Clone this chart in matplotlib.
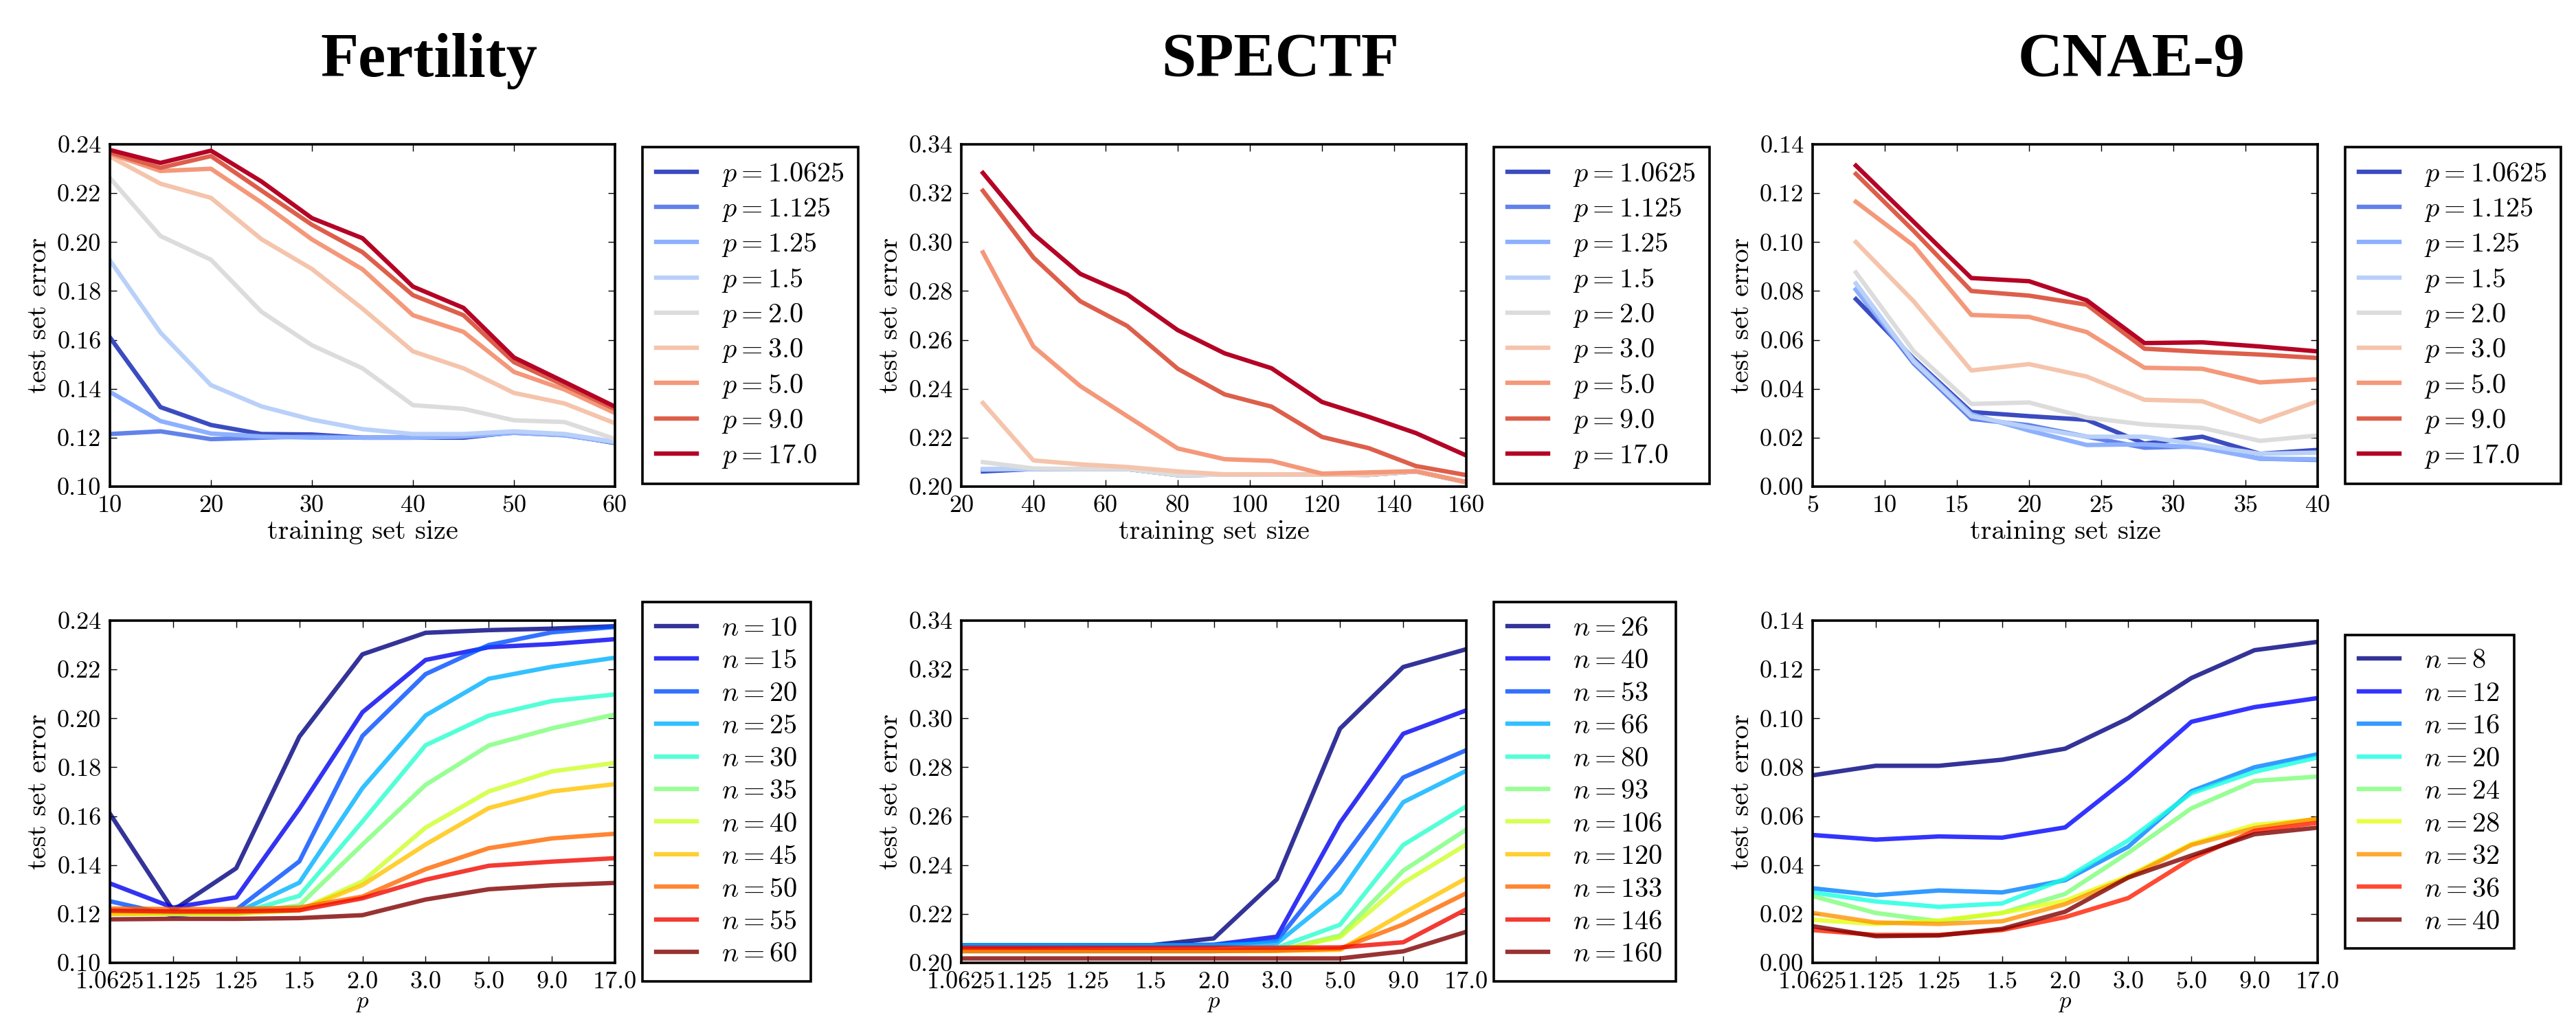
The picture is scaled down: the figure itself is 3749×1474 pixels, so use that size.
"""
Test set error against training set size and p, for three datasets
"""
import numpy as np
import matplotlib
matplotlib.use('agg')
import matplotlib.pyplot as plt
from matplotlib.ticker import FormatStrFormatter

# Computer Modern look for everything except the titles
plt.rcParams['font.family'] = 'cmr10'
plt.rcParams['mathtext.fontset'] = 'cm'
plt.rcParams['axes.unicode_minus'] = False

# p values -> rows of every error table
p_labels = ['1.0625', '1.125', '1.25', '1.5', '2.0', '3.0', '5.0', '9.0', '17.0']

# Fertility: columns are training set sizes
fert_n = [10, 15, 20, 25, 30, 35, 40, 45, 50, 55, 60]
fert_err = np.array([
    [.1610, .1325, .1252, .1215, .1213, .1200, .1200, .1200, .1222, .1213, .1178],
    [.1215, .1226, .1194, .1200, .1205, .1200, .1200, .1205, .1220, .1210, .1180],
    [.1387, .1268, .1217, .1205, .1200, .1200, .1200, .1205, .1220, .1210, .1180],
    [.1925, .1630, .1415, .1328, .1274, .1235, .1215, .1215, .1226, .1215, .1183],
    [.2262, .2025, .1928, .1715, .1578, .1484, .1333, .1318, .1271, .1264, .1195],
    [.2350, .2239, .2181, .2012, .1890, .1728, .1553, .1484, .1383, .1340, .1259],
    [.2361, .2291, .2300, .2162, .2011, .1889, .1701, .1633, .1469, .1397, .1301],
    [.2367, .2304, .2352, .2211, .2071, .1959, .1783, .1701, .1509, .1414, .1317],
    [.2377, .2324, .2374, .2248, .2098, .2016, .1818, .1731, .1528, .1428, .1327],
])

# SPECTF
spectf_n = [26, 40, 53, 66, 80, 93, 106, 120, 133, 146, 160]
spectf_err = np.array([
    [.2062, .2072, .2072, .2072, .2047, .2049, .2049, .2049, .2048, .2062, .2018],
    [.2068, .2072, .2072, .2072, .2047, .2049, .2049, .2049, .2048, .2062, .2018],
    [.2070, .2072, .2072, .2072, .2047, .2049, .2049, .2049, .2048, .2062, .2018],
    [.2072, .2072, .2072, .2072, .2047, .2049, .2049, .2049, .2048, .2062, .2018],
    [.2100, .2074, .2072, .2072, .2047, .2049, .2049, .2049, .2048, .2062, .2018],
    [.2342, .2107, .2091, .2080, .2062, .2050, .2050, .2049, .2050, .2062, .2018],
    [.2958, .2573, .2411, .2288, .2156, .2112, .2105, .2053, .2058, .2063, .2018],
    [.3210, .2937, .2758, .2657, .2482, .2377, .2327, .2203, .2157, .2084, .2047],
    [.3283, .3033, .2870, .2786, .2640, .2545, .2484, .2346, .2285, .2219, .2127],
])

# CNAE-9
cnae_n = [8, 12, 16, 20, 24, 28, 32, 36, 40]
cnae_err = np.array([
    [.0767, .0523, .0305, .0288, .0273, .0176, .0204, .0134, .0150],
    [.0806, .0504, .0277, .0251, .0204, .0159, .0165, .0114, .0109],
    [.0806, .0517, .0296, .0229, .0170, .0173, .0159, .0114, .0112],
    [.0831, .0512, .0288, .0243, .0204, .0204, .0170, .0134, .0139],
    [.0876, .0554, .0338, .0344, .0282, .0254, .0240, .0187, .0209],
    [.1000, .0758, .0475, .0501, .0450, .0355, .0349, .0265, .0349],
    [.1165, .0986, .0702, .0694, .0632, .0486, .0482, .0426, .0439],
    [.1279, .1046, .0800, .0781, .0744, .0564, .0551, .0540, .0526],
    [.1313, .1083, .0853, .0840, .0762, .0587, .0590, .0573, .0553],
])

titles = ['Fertility', 'SPECTF', 'CNAE-9']
title_x = [624, 1863, 3102]  # pixel centres of the titles
xlims = [(10, 60), (20, 160), (5, 40)]
xstep = [10, 20, 5]
ylims = [(0.10, 0.24), (0.20, 0.34), (0.00, 0.14)]

W, H = 3749, 1474
LW = 4.6
TICK_FS = 26
LABEL_FS = 29
LEG_FS = 29


def style_axes(ax, ylim):
    """
    Thick frame, inward ticks on all four sides
    """
    for side in ax.spines.values():
        side.set_linewidth(2.6)
    ax.tick_params(direction='in', top=True, right=True, length=7.5,
                   width=1.0, labelsize=TICK_FS, pad=9)
    ax.set_ylim(*ylim)
    ax.set_yticks(np.arange(ylim[0], ylim[1] + 0.001, 0.02))
    ax.yaxis.set_major_formatter(FormatStrFormatter('%.2f'))
    ax.set_ylabel('test set error', fontsize=LABEL_FS, labelpad=6)


def add_legend(ax):
    leg = ax.legend(loc='center left', bbox_to_anchor=(1 + 40 / 735., 0.5),
                    borderaxespad=0, fontsize=LEG_FS, handlelength=1.45,
                    handletextpad=0.9, labelspacing=0.28, borderpad=0.5,
                    fancybox=False, framealpha=1, edgecolor='black')
    leg.get_frame().set_linewidth(2.6)


def plot_vs_n(ax, n, err, xlim, step, ylim):
    """
    One line per p against training set size
    """
    colors = plt.cm.coolwarm(np.linspace(0, 1, len(p_labels)))
    for i, p in enumerate(p_labels):
        ax.plot(n, err[i], color=colors[i], lw=LW, label=r'$p = %s$' % p)
    ax.set_xlim(*xlim)
    ax.set_xticks(np.arange(xlim[0], xlim[1] + 1, step))
    ax.xaxis.set_major_formatter(FormatStrFormatter('%d'))
    style_axes(ax, ylim)
    ax.set_xlabel('training set size', fontsize=LABEL_FS, labelpad=3)
    add_legend(ax)


def plot_vs_p(ax, n, err, ylim):
    """
    One line per training set size against p (p on an index scale)
    """
    x = np.arange(len(p_labels))
    colors = plt.cm.jet(np.linspace(0, 1, len(n)))
    for j, size in enumerate(n):
        ax.plot(x, err[:, j], color=colors[j], lw=LW, alpha=0.8,
                label=r'$n = %d$' % size)
    ax.set_xlim(0, len(p_labels) - 1)
    ax.set_xticks(x)
    ax.set_xticklabels(p_labels)
    style_axes(ax, ylim)
    # little room under the bottom row, keep p snug under the tick labels
    ax.set_xlabel(r'$p$', fontsize=25, labelpad=-1)
    add_legend(ax)


fig = plt.figure(figsize=(W / 100., H / 100.), dpi=100)

lefts = [160, 1399, 2638]
ax_w, ax_h = 735, 498
datasets = [(fert_n, fert_err), (spectf_n, spectf_err), (cnae_n, cnae_err)]

for k, (n, err) in enumerate(datasets):
    top_ax = fig.add_axes([lefts[k] / W, 1 - 708. / H, ax_w / W, ax_h / H])
    plot_vs_n(top_ax, n, err, xlims[k], xstep[k], ylims[k])

    bot_ax = fig.add_axes([lefts[k] / W, 1 - 1401. / H, ax_w / W, ax_h / H])
    plot_vs_p(bot_ax, n, err, ylims[k])

    fig.text(title_x[k] / W, 1 - 110.7 / H, titles[k], ha='center',
             va='baseline', fontsize=65, fontweight='bold',
             family='Liberation Serif')

plt.savefig('out.png', dpi=100)
plt.close()
